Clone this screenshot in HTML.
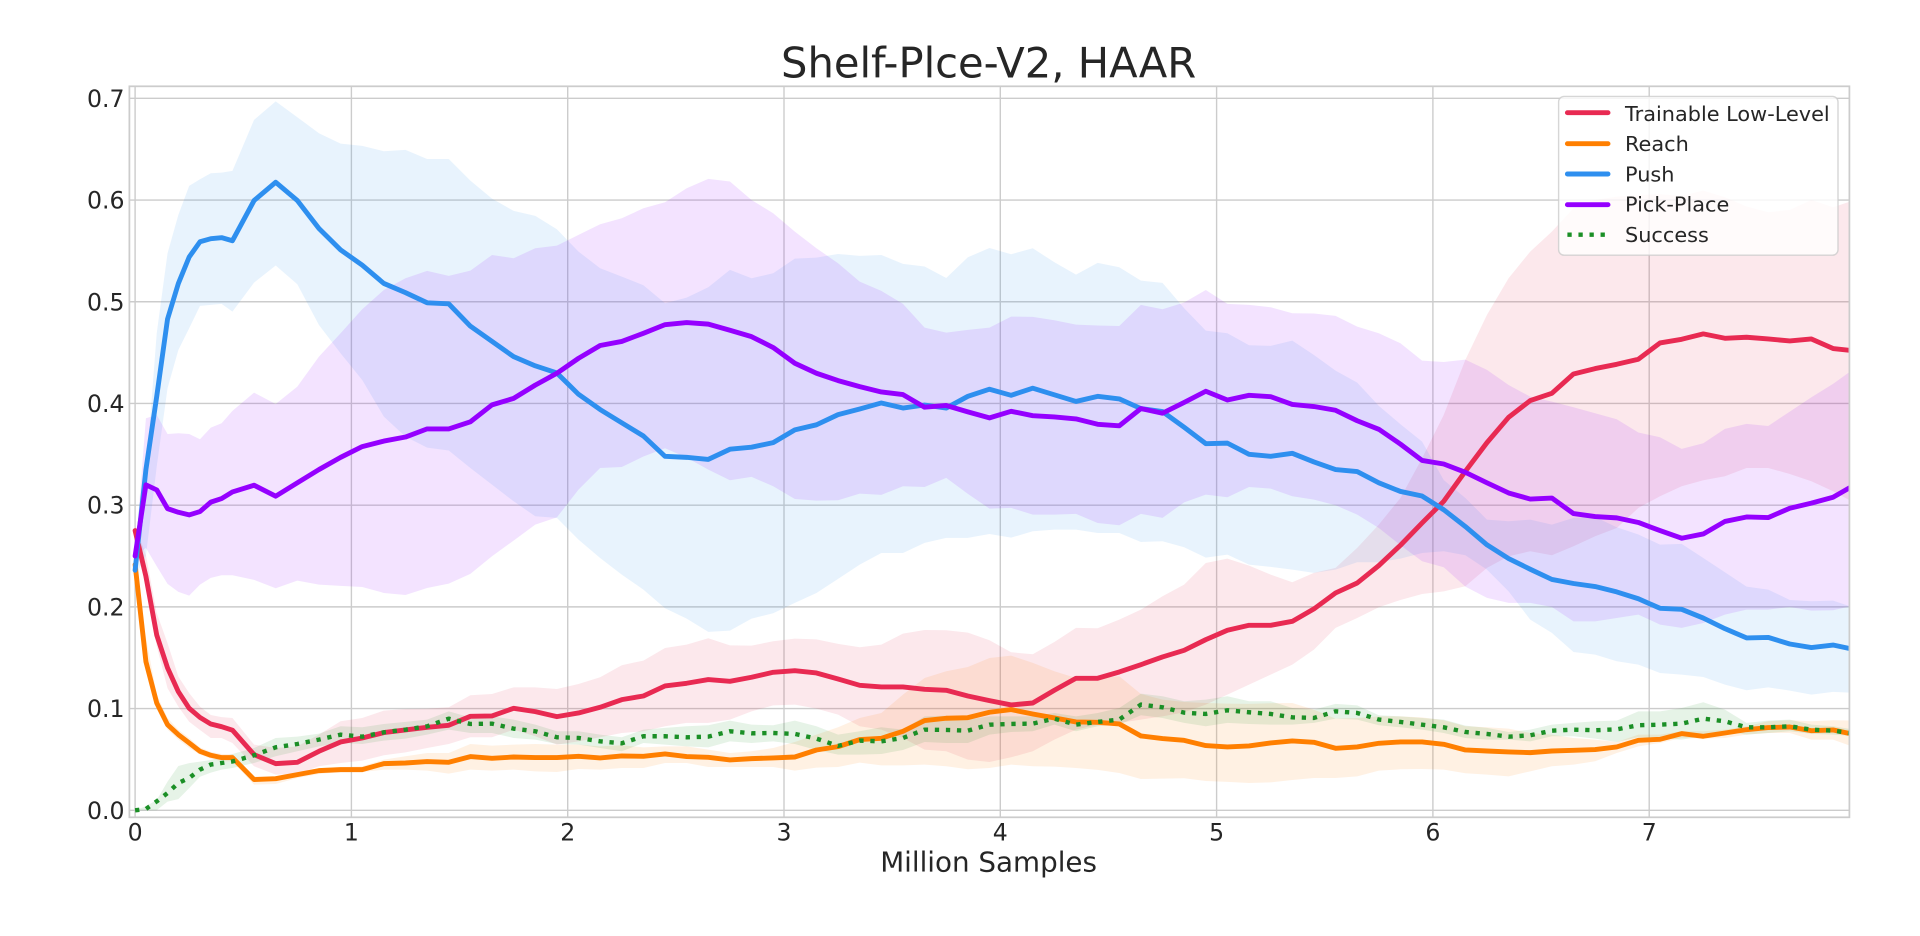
<!DOCTYPE html>
<html lang="en">
<head>
<meta charset="utf-8">
<title>Shelf-Plce-V2, HAAR</title>
<style>
  html, body { margin: 0; padding: 0; background: #ffffff; }
  svg { display: block; }
  text { font-family: "DejaVu Sans", "Liberation Sans", sans-serif; fill: #262626; }
</style>
</head>
<body>
<svg id="chart" xmlns="http://www.w3.org/2000/svg" width="1920" height="936" viewBox="0 0 1920 936">
  <defs>
    <clipPath id="plot-clip"><rect x="129.4" y="86.3" width="1720" height="731"/></clipPath>
  </defs>
  <rect x="0" y="0" width="1920" height="936" fill="#ffffff"/>
  <g id="grid"></g>
  <g id="bands" clip-path="url(#plot-clip)"></g>
  <g id="lines" clip-path="url(#plot-clip)"></g>
  <rect x="129.4" y="86.3" width="1720" height="731" fill="none" stroke="#cccccc" stroke-width="1.74"/>
  <g id="x-ticks"></g>
  <g id="y-ticks"></g>
  <text x="988.6" y="77.5" font-size="41.67" text-anchor="middle">Shelf-Plce-V2, HAAR</text>
  <text x="988.6" y="871.5" font-size="27.78" text-anchor="middle">Million Samples</text>
  <g id="legend">
    <rect x="1558.6" y="96.4" width="279.4" height="158.8" rx="5.5" ry="5.5" fill="#ffffff" fill-opacity="0.8" stroke="#cccccc" stroke-opacity="0.8" stroke-width="1.39"/>
  </g>
</svg>
<script>
const samples = [0,.05,.1,.15,.2,.25,.3,.35,.4,.45,
  .55,.65,.75,.85,.95,1.05,1.15,1.25,1.35,1.45,
  1.55,1.65,1.75,1.85,1.95,2.05,2.15,2.25,2.35,
  2.45,2.55,2.65,2.75,2.85,2.95,3.05,3.15,3.25,3.35,
  3.45,3.55,3.65,3.75,3.85,3.95,4.05,4.15,4.25,4.35,
  4.45,4.55,4.65,4.75,4.85,4.95,5.05,5.15,5.25,
  5.35,5.45,5.55,5.65,5.75,5.85,5.95,6.05,6.15,6.25,6.35,
  6.45,6.55,6.65,6.75,6.85,6.95,7.05,7.15,7.25,7.35,
  7.45,7.55,7.65,7.75,7.85,7.95];

const xTickLabels = ["0","1","2","3","4","5","6","7"];
const yTickLabels = ["0.0","0.1","0.2","0.3","0.4","0.5","0.6","0.7"];
const seriesNames = ["Trainable Low-Level","Reach","Push","Pick-Place","Success"];

const redMean = [.275,.23,.1723,.14,.1166,.1003,.0913,.0848,.0822,.0788,
  .0547,.0459,.0472,.058,.0672,.0711,.0764,.079,.0816,.0836,
  .0924,.0928,.1003,.097,.0921,.0957,.1013,.1088,.1124,
  .1223,.1249,.1285,.1268,.1308,.1357,.1373,.135,.1291,.1229,
  .1213,.1213,.119,.118,.1124,.1078,.1036,.1055,.118,.1298,
  .1298,.136,.1432,.1508,.1573,.1678,.177,.1819,.1819,
  .1858,.198,.2137,.2235,.2406,.2606,.2825,.3038,.3333,.3615,.3864,
  .4028,.41,.429,.4343,.4385,.4435,.4595,.4631,.4684,.4641,
  .4651,.4634,.4615,.4634,.454,.4517];
const redUpper = [.28,.251,.194,.1643,.1314,.1152,.1019,.0937,.0916,.0907,
  .0646,.0613,.0629,.0744,.0875,.0908,.098,.0996,.1,.1013,
  .1131,.1144,.1209,.1209,.1193,.1242,.1308,.1426,.1472,
  .1596,.1629,.1691,.1622,.1619,.1662,.1688,.1681,.1636,.1603,
  .1629,.1737,.1773,.177,.1747,.1672,.1554,.1534,.1655,.1793,
  .179,.1875,.1973,.2104,.2219,.2431,.2475,.2406,.2317,
  .2242,.2334,.2383,.258,.2809,.3071,.3461,.3887,.4428,.4871,.5231,
  .5493,.569,.5919,.6001,.6034,.605,.6057,.6041,.6093,.6028,
  .5936,.588,.5903,.6001,.5929,.6001];
const redLower = [.27,.22,.1613,.12,.1019,.0871,.0789,.0711,.0711,.0662,
  .0433,.0351,.0357,.0433,.0465,.0488,.0541,.057,.0613,.0652,
  .0718,.0718,.0793,.0728,.0646,.0678,.0718,.076,.0777,
  .0826,.0859,.0859,.0892,.0973,.1032,.1039,.1,.0941,.0826,
  .0793,.0711,.0597,.058,.0498,.0475,.0521,.058,.0695,.0793,
  .0842,.0859,.0892,.0924,.0964,.1039,.1137,.1236,.1334,
  .1432,.158,.1793,.1891,.1996,.2068,.2127,.2153,.2203,.2383,.2498,
  .2547,.2507,.2596,.2694,.2776,.2973,.3088,.3186,.3245,.3284,
  .3366,.3366,.3307,.3235,.3137,.3022];

const orangeMean = [.2416,.1462,.1055,.0842,.0744,.0662,.058,.0541,.0518,.0518,
  .0302,.0311,.0351,.039,.04,.04,.0459,.0465,.0479,.0472,
  .0528,.0511,.0524,.0518,.0518,.0531,.0515,.0534,.0531,
  .0554,.0528,.0521,.0495,.0508,.0515,.0524,.0593,.0626,.0695,
  .0708,.0777,.0882,.0905,.0911,.0964,.099,.0947,.0908,.0869,
  .0865,.0849,.0731,.0705,.0688,.0636,.0623,.0633,.0662,
  .0682,.0669,.061,.0623,.0659,.0672,.0672,.0649,.0593,.0583,.0574,
  .0567,.0583,.059,.0597,.0623,.0688,.0698,.0754,.0728,.076,
  .0793,.0813,.0819,.0783,.079,.0744];
const orangeUpper = [.245,.17,.1137,.0908,.0793,.0711,.0619,.0574,.0554,.0554,
  .0334,.0334,.0367,.0416,.0423,.0433,.0498,.0531,.0564,.0564,
  .0652,.0636,.0646,.0652,.0646,.0646,.0629,.0639,.0619,
  .0629,.0629,.0597,.0564,.058,.0613,.0672,.0744,.0816,.0908,
  .0957,.1137,.1301,.1367,.1409,.1498,.1521,.1449,.1367,.1301,
  .1301,.1318,.1144,.1088,.1065,.1055,.1049,.1046,.1052,
  .1055,.099,.0901,.0908,.0924,.0924,.0914,.0885,.0826,.0816,.0803,
  .076,.0744,.0711,.0695,.0672,.0744,.0744,.0777,.0777,.0793,
  .0826,.0875,.0885,.0875,.0885,.0882];
const orangeLower = [.235,.14,.1006,.0793,.0695,.0613,.0547,.0508,.0482,.0482,
  .0252,.0259,.0318,.0357,.0377,.0377,.04,.04,.039,.0361,
  .04,.039,.04,.0383,.0377,.0406,.04,.0416,.0416,
  .0465,.0465,.0426,.0426,.0426,.0426,.039,.042,.0426,.0469,
  .0442,.0442,.0449,.0433,.0403,.0416,.0449,.0433,.0429,.0416,
  .0397,.0367,.0308,.0311,.0315,.0288,.0279,.0269,.0275,
  .0298,.0318,.0318,.0334,.039,.0403,.0406,.04,.0364,.0351,.0334,
  .0383,.0433,.0449,.0482,.0564,.0629,.0662,.0711,.0705,.0711,
  .0744,.076,.076,.0695,.0695,.0619];

const pushMean = [.236,.335,.407,.483,.518,.544,.559,.562,.563,.56,
  .5995,.6175,.5995,.572,.551,.536,.518,.509,.499,.498,
  .476,.461,.446,.437,.43,.409,.394,.381,.368,
  .348,.347,.345,.355,.357,.3615,.374,.379,.389,.3945,
  .4005,.3955,.3985,.3955,.407,.414,.408,.415,.4085,.402,
  .407,.4045,.395,.392,.3766,.3605,.361,.35,.348,
  .351,.3425,.335,.333,.322,.3135,.309,.2955,.279,.261,.2475,
  .237,.227,.223,.22,.2147,.208,.1986,.1976,.189,.1786,
  .1695,.17,.1635,.16,.1625,.158];
const pushUpper = [.25,.33,.469,.5477,.5854,.6139,.6205,.6264,.627,.6287,
  .6788,.697,.6814,.6657,.6555,.6532,.648,.6493,.6404,.6404,
  .6191,.6014,.5893,.5844,.5713,.5493,.5329,.5247,.5162,
  .4985,.504,.5143,.5313,.5231,.528,.5424,.5434,.547,.5451,
  .546,.5372,.5346,.5234,.5437,.5529,.5467,.5526,.5388,.5267,
  .5382,.5339,.5208,.5185,.4936,.4716,.469,.4572,.4566,
  .4618,.4477,.4323,.4205,.3976,.3796,.3625,.3248,.3071,.2858,.2842,
  .2858,.2809,.2875,.2884,.2783,.2711,.2612,.2619,.2481,.234,
  .2199,.217,.2068,.2055,.2062,.199];
const pushLower = [.23,.25,.338,.415,.4526,.4739,.4959,.4969,.4979,.4903,
  .5188,.5356,.5172,.4772,.4494,.4231,.3871,.3674,.3566,.3537,
  .3366,.3202,.3038,.2891,.2875,.2661,.2481,.2317,.217,
  .1986,.1885,.1754,.1767,.1885,.1937,.2039,.2137,.2275,.2416,
  .253,.253,.2629,.2678,.2678,.2717,.2681,.2743,.276,.276,
  .2727,.2727,.2638,.2645,.2586,.2484,.2514,.2416,.2393,
  .2366,.2334,.2366,.2439,.2439,.2475,.253,.2547,.2507,.2366,.2153,
  .1875,.1744,.1557,.1531,.1465,.1432,.135,.1334,.1311,.1236,
  .118,.1209,.1177,.1137,.1164,.1154];

const purpleMean = [.25,.32,.315,.2966,.293,.2904,.2937,.303,.3065,.313,
  .3196,.3088,.322,.335,.347,.3576,.363,.367,.375,.375,
  .382,.3986,.405,.418,.4297,.4444,.457,.461,.469,
  .4775,.4795,.478,.472,.4657,.455,.4395,.4297,.4225,.4166,
  .4113,.4087,.3963,.398,.3917,.3858,.3923,.388,.3868,.3848,
  .3795,.378,.395,.3904,.401,.412,.4034,.408,.4067,
  .399,.397,.3933,.383,.3746,.36,.344,.3405,.3323,.322,.312,
  .306,.307,.2917,.2888,.2875,.283,.275,.2675,.2717,.284,
  .2884,.2878,.297,.302,.3078,.32];
const purpleUpper = [.25,.3855,.3887,.37,.3707,.37,.3648,.3763,.3805,.3927,
  .4107,.3995,.4166,.4461,.469,.4926,.5116,.5231,.5303,.5254,
  .5306,.546,.5428,.5526,.5552,.5657,.5762,.5821,.5919,
  .5978,.6116,.6208,.6182,.6001,.587,.569,.5526,.5379,.5198,
  .5107,.4979,.4746,.4697,.4723,.4746,.4854,.4851,.4818,.4775,
  .4766,.4762,.4969,.4926,.4992,.5116,.4979,.4969,.4946,
  .4887,.4884,.4861,.4756,.469,.4592,.4421,.4408,.4431,.433,.4182,
  .4067,.4018,.3963,.3904,.3845,.3714,.3668,.3553,.3609,.375,
  .3799,.3779,.392,.4061,.4192,.4346];
const purpleLower = [.25,.258,.24,.2226,.2147,.2111,.2219,.2285,.2311,.2311,
  .2265,.2183,.2258,.2219,.2206,.2196,.2137,.2117,.2186,.2229,
  .2324,.2498,.2652,.2809,.288,.3153,.3366,.3375,.3478,
  .356,.3468,.335,.3245,.3278,.3186,.3061,.3045,.3048,.3114,
  .3101,.3186,.3179,.3268,.3111,.2966,.2973,.2907,.2907,.2914,
  .2825,.2802,.2914,.2875,.3028,.3104,.3078,.3179,.3163,
  .3088,.3055,.2999,.2907,.2776,.2606,.2448,.2389,.2199,.2088,.2039,
  .2039,.1999,.1858,.1858,.1891,.1924,.1826,.1793,.1842,.1924,
  .1973,.1973,.1999,.1963,.1967,.2016];

const successMean = [0,.0013,.0088,.017,.0269,.0318,.04,.045,.0465,.048,
  .0541,.0619,.0652,.0695,.0744,.0724,.0767,.0793,.0826,.0901,
  .0849,.0852,.0803,.0777,.0718,.0711,.0678,.0659,.0728,
  .0728,.0718,.0724,.0777,.0757,.076,.0751,.0705,.0633,.0685,
  .0678,.0711,.0793,.079,.0783,.0842,.0849,.0852,.0901,.0842,
  .0869,.0892,.1039,.1013,.096,.0947,.0983,.0964,.0947,
  .0914,.0908,.0973,.0957,.0892,.0869,.0842,.0816,.077,.0751,.0724,
  .0737,.0783,.0793,.0787,.0796,.0836,.0842,.0852,.0901,.0875,
  .0816,.0816,.0826,.0793,.0783,.0754];
const successUpper = [0,.004,.0101,.0282,.0436,.0464,.0478,.0494,.0521,.0554,
  .0613,.0711,.0724,.0754,.0826,.0816,.0849,.0869,.0892,.0973,
  .0914,.0924,.0892,.0842,.0777,.0777,.0744,.0718,.0793,
  .081,.0826,.0836,.0882,.0842,.0836,.0882,.0826,.0744,.0777,
  .0816,.0793,.0924,.0931,.0892,.0924,.0924,.0924,.0957,.0924,
  .0957,.1006,.1147,.1121,.1072,.1088,.1121,.1072,.1072,
  .1006,.099,.1046,.1032,.0934,.0924,.0908,.0892,.0833,.081,.077,
  .0793,.0842,.0859,.0875,.0882,.0973,.0973,.1006,.1062,.099,
  .0859,.0882,.0892,.0842,.0826,.0793];
const successLower = [0,0,0,.0085,.011,.0218,.033,.037,.04,.0416,
  .0465,.0531,.058,.0629,.0662,.0652,.0685,.0705,.0744,.0793,
  .076,.076,.0711,.0695,.0652,.0646,.0613,.058,.0662,
  .0646,.0629,.0619,.0678,.0662,.0678,.0652,.0593,.0547,.0547,
  .0554,.0593,.0672,.0662,.0662,.0744,.077,.0777,.0842,.0777,
  .0826,.0842,.0934,.0908,.0859,.0826,.0859,.0849,.0842,
  .0842,.0859,.0901,.0892,.0836,.0816,.0793,.076,.0711,.0695,.0695,
  .0678,.0728,.0728,.0705,.0672,.0718,.0711,.0695,.0728,.0777,
  .0744,.076,.0777,.0751,.0744,.0728];

const SVG_NS = "http://www.w3.org/2000/svg";
function xScale(v) { return 135.1 + 216.3 * v; }
function yScale(v) { return 810.3 - 1017.1 * v; }

function make(tag, attrs, parent) {
  const el = document.createElementNS(SVG_NS, tag);
  for (const k in attrs) el.setAttribute(k, attrs[k]);
  parent.appendChild(el);
  return el;
}

const gridGroup = document.getElementById("grid");
const xTickGroup = document.getElementById("x-ticks");
const yTickGroup = document.getElementById("y-ticks");

xTickLabels.forEach(function (label) {
  const px = xScale(Number(label));
  const line = make("line", { x1: px, x2: px, y1: 86.3, y2: 817.3, stroke: "#cccccc", "stroke-width": 1.39 }, gridGroup);
  
  
  const t = make("text", { x: px, y: 840.5, "font-size": 23.6, "text-anchor": "middle" }, xTickGroup);
  
  
  t.textContent = label;
});

yTickLabels.forEach(function (label) {
  const py = yScale(Number(label));
  const line = make("line", { x1: 129.4, x2: 1849.4, y1: py, y2: py, stroke: "#cccccc", "stroke-width": 1.39 }, gridGroup);
  
  
  const t = make("text", { x: 124.5, y: py + 8.5, "font-size": 23.6, "text-anchor": "end" }, yTickGroup);
  
  
  t.textContent = label;
});

const seriesList = [
  { key: "trainable-low-level", color: "#e82a52", mean: redMean, upper: redUpper, lower: redLower, dotted: false },
  { key: "reach", color: "#ff7f00", mean: orangeMean, upper: orangeUpper, lower: orangeLower, dotted: false },
  { key: "push", color: "#2e8fef", mean: pushMean, upper: pushUpper, lower: pushLower, dotted: false },
  { key: "pick-place", color: "#9500ff", mean: purpleMean, upper: purpleUpper, lower: purpleLower, dotted: false },
  { key: "success", color: "#1b8f26", mean: successMean, upper: successUpper, lower: successLower, dotted: true }
];

const bandGroup = document.getElementById("bands");
const lineGroup = document.getElementById("lines");
const legendGroup = document.getElementById("legend");
const legendHandleY = [112.7, 143.7, 174, 204.7, 234.7];
const legendTextY = [121, 151.2, 181.4, 211.7, 242];

function pointsOf(values) {
  return values.map(function (v, i) {
    return xScale(samples[i]).toFixed(2) + "," + yScale(v).toFixed(2);
  });
}

seriesList.forEach(function (s, idx) {
  const upperPts = pointsOf(s.upper);
  const lowerPts = pointsOf(s.lower).reverse();
  const band = make("polygon", { points: upperPts.concat(lowerPts).join(" "), fill: s.color, "fill-opacity": 0.11, stroke: "none" }, bandGroup);
  
  

  const attrs = { points: pointsOf(s.mean).join(" "), fill: "none", stroke: s.color, "stroke-width": s.dotted ? 4.4 : 4.9, "stroke-linejoin": "round" };
  if (s.dotted) { attrs["stroke-dasharray"] = "4.3 6.75"; attrs["stroke-linecap"] = "butt"; }
  else { attrs["stroke-linecap"] = "round"; }
  const line = make("polyline", attrs, lineGroup);
  
  

  const hAttrs = { x1: 1567.4, x2: 1608, y1: legendHandleY[idx], y2: legendHandleY[idx], stroke: s.color, "stroke-width": s.dotted ? 4.4 : 4.9 };
  if (s.dotted) { hAttrs["stroke-dasharray"] = "4.3 6.75"; }
  else { hAttrs["stroke-linecap"] = "round"; }
  const handle = make("line", hAttrs, legendGroup);
  
  

  const label = make("text", { x: 1625, y: legendTextY[idx], "font-size": 20.83 }, legendGroup);
  
  
  label.textContent = seriesNames[idx];
});
</script>
</body>
</html>
